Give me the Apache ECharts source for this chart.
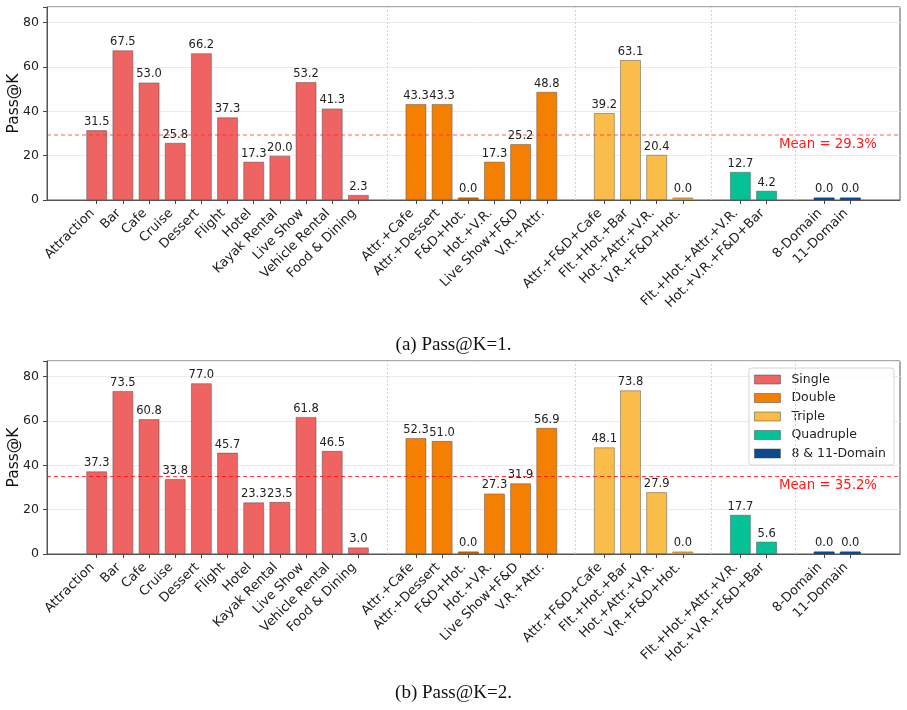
<!DOCTYPE html>
<html>
<head>
<meta charset="utf-8">
<script src="https://cdn.jsdelivr.net/npm/echarts@6/dist/echarts.min.js"></script>
<style>html,body{margin:0;padding:0;background:#fff;}#chart{width:907px;height:710px;}</style>
</head>
<body>
<div id="chart"></div>
<script>
// ---- Data ----
const groupNames = ['Single', 'Double', 'Triple', 'Quadruple', '8 & 11-Domain'];
const singleCats = ['Attraction', 'Bar', 'Cafe', 'Cruise', 'Dessert', 'Flight', 'Hotel', 'Kayak Rental', 'Live Show', 'Vehicle Rental', 'Food & Dining'];
const doubleCats = ['Attr.+Cafe', 'Attr.+Dessert', 'F&D+Hot.', 'Hot.+V.R.', 'Live Show+F&D', 'V.R.+Attr.'];
const tripleCats = ['Attr.+F&D+Cafe', 'Flt.+Hot.+Bar', 'Hot.+Attr.+V.R.', 'V.R.+F&D+Hot.'];
const quadCats = ['Flt.+Hot.+Attr.+V.R.', 'Hot.+V.R.+F&D+Bar'];
const domainCats = ['8-Domain', '11-Domain'];

const k1Single = [31.5, 67.5, 53.0, 25.8, 66.2, 37.3, 17.3, 20.0, 53.2, 41.3, 2.3];
const k1Double = [43.3, 43.3, 0.0, 17.3, 25.2, 48.8];
const k1Triple = [39.2, 63.1, 20.4, 0.0];
const k1Quad = [12.7, 4.2];
const k1Domain = [0.0, 0.0];
const k1Mean = 29.3;

const k2Single = [37.3, 73.5, 60.8, 33.8, 77.0, 45.7, 23.3, 23.5, 61.8, 46.5, 3.0];
const k2Double = [52.3, 51.0, 0.0, 27.3, 31.9, 56.9];
const k2Triple = [48.1, 73.8, 27.9, 0.0];
const k2Quad = [17.7, 5.6];
const k2Domain = [0.0, 0.0];
const k2Mean = 35.2;

const yTicks = [0, 20, 40, 60, 80];
const captions = ['(a) Pass@K=1.', '(b) Pass@K=2.'];

// ---- Layout helpers ----
const colors = ['#EF6363', '#F57F00', '#FBBD4A', '#05C296', '#0B4A8C'];
const zeroEdge = ['#c84a4a', '#b85e00', '#c8963a', '#049a78', '#0B4A8C'];
const groupCats = [singleCats, doubleCats, tripleCats, quadCats, domainCats];
const GROUP_EXTRA = 1.2;
const groupPos = [];
let idx = 0;
groupCats.forEach((cats, g) => {
  groupPos.push(cats.map(() => { const p = +(idx + g * GROUP_EXTRA).toFixed(1); idx++; return p; }));
});
const allPos = [].concat(...groupPos);
const nameByPos = {};
groupCats.forEach((cats, g) => cats.forEach((c, i) => { nameByPos[groupPos[g][i].toFixed(1)] = c; }));
const separators = [];
for (let g = 0; g < groupPos.length - 1; g++) {
  separators.push((groupPos[g][groupPos[g].length - 1] + groupPos[g + 1][0]) / 2);
}
const xMin = -1.9, xMax = allPos[allPos.length - 1] + 1.9;

const panels = [
  { vals: [k1Single, k1Double, k1Triple, k1Quad, k1Domain], mean: k1Mean, top: 7, meanStyle: { color: 'rgba(255,40,40,0.5)', width: 1.6 } },
  { vals: [k2Single, k2Double, k2Triple, k2Quad, k2Domain], mean: k2Mean, top: 361, meanStyle: { color: 'rgba(255,0,0,0.75)', width: 1 } }
];

const FONT = 'DejaVu Sans';
const grids = [], xAxes = [], yAxes = [], series = [];
panels.forEach((p, pi) => {
  grids.push({ left: 47, width: 853, top: p.top, height: 193, containLabel: false, outerBoundsMode: 'none',
    show: true, borderColor: '#555', borderWidth: 1, backgroundColor: 'transparent' });
  xAxes.push({
    type: 'value', gridIndex: pi, min: xMin, max: xMax,
    axisLine: { show: true, onZero: false, lineStyle: { color: '#555', width: 1 } },
    axisTick: { show: true, customValues: allPos, length: 4, lineStyle: { color: '#444' } },
    axisLabel: { show: true, customValues: allPos, rotate: 45, margin: 7, padding: [0, 6, 0, 0],
      fontSize: 13, fontFamily: FONT, color: '#222',
      formatter: v => nameByPos[(+v).toFixed(1)] || '' },
    splitLine: { show: false }
  });
  yAxes.push({
    type: 'value', gridIndex: pi, min: 0, max: 87, interval: 20,
    name: 'Pass@K', nameLocation: 'middle', nameGap: 25, nameMoveOverlap: false,
    nameTextStyle: { fontSize: 15.5, fontFamily: FONT, color: '#111' },
    axisLine: { show: true, onZero: false, lineStyle: { color: '#555' } },
    axisTick: { show: true, length: 4, lineStyle: { color: '#444' } },
    axisLabel: { fontSize: 12.5, fontFamily: FONT, color: '#222', margin: 8,
      customValues: yTicks, formatter: v => String(v) },
    splitLine: { show: true, lineStyle: { color: '#ebebeb', width: 1 } }
  });
  p.vals.forEach((vals, g) => {
    const s = {
      type: 'bar', name: groupNames[g], xAxisIndex: pi, yAxisIndex: pi,
      data: vals.map((v, i) => v === 0
        ? { value: [groupPos[g][i], v], itemStyle: { borderColor: zeroEdge[g], color: zeroEdge[g] } }
        : [groupPos[g][i], v]),
      barWidth: 21, barGap: '-100%', barMinHeight: 2.5,
      itemStyle: { color: colors[g], borderColor: 'rgba(70,70,70,0.45)', borderWidth: 1 },
      label: { show: true, position: 'top', distance: 2, fontSize: 11.5, fontFamily: FONT, color: '#222',
        formatter: prm => prm.value[1].toFixed(1) },
      animation: false
    };
    if (g === 0) {
      s.markLine = {
        silent: true, symbol: 'none', animation: false,
        data: [
          { yAxis: p.mean, lineStyle: Object.assign({ type: [4, 3] }, p.meanStyle),
            label: { show: true, position: 'insideEndBottom', distance: [23, 3], formatter: 'Mean = ' + p.mean.toFixed(1) + '%',
              fontSize: 13.3, fontFamily: FONT, color: '#ff1a1a' } }
        ].concat(separators.map(x => ({ xAxis: x, lineStyle: { color: '#d4d4d4', type: [2, 2], width: 1 }, label: { show: false } })))
      };
    }
    series.push(s);
  });
});

const chart = echarts.init(document.getElementById('chart'), null, { renderer: 'canvas' });
chart.setOption({
  animation: false,
  backgroundColor: '#fff',
  title: [
    { text: captions[0], left: 'center', top: 331, textStyle: { fontFamily: 'Liberation Serif', fontSize: 19, fontWeight: 'normal', color: '#111' } },
    { text: captions[1], left: 'center', top: 679, textStyle: { fontFamily: 'Liberation Serif', fontSize: 19, fontWeight: 'normal', color: '#111' } }
  ],
  legend: {
    data: groupNames, orient: 'vertical', right: 13, top: 368,
    itemWidth: 26, itemHeight: 9, itemGap: 3.5, icon: 'rect',
    itemStyle: { borderColor: 'rgba(70,70,70,0.5)', borderWidth: 1 },
    textStyle: { fontSize: 12.5, fontFamily: FONT, color: '#222', padding: [0, 0, 0, 6], lineHeight: 15 },
    padding: [4, 8, 4, 5], borderColor: '#d6d6d6', borderWidth: 1, borderRadius: 3,
    backgroundColor: 'rgba(255,255,255,0.85)'
  },
  grid: grids, xAxis: xAxes, yAxis: yAxes, series: series
});
</script>
</body>
</html>
